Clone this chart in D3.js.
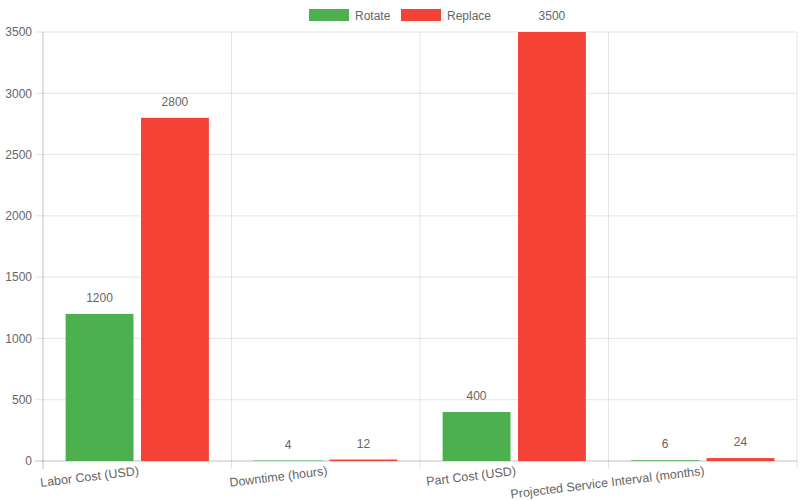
<!DOCTYPE html>
<html><head><meta charset="utf-8">
<script src="https://cdn.jsdelivr.net/npm/d3@7"></script>
<style>body{margin:0;background:#fff}svg{display:block;font-family:"Liberation Sans",Arial,sans-serif}</style>
</head><body><svg id="c" width="800" height="500"></svg>
<script>
const categories = ["Labor Cost (USD)", "Downtime (hours)", "Part Cost (USD)", "Projected Service Interval (months)"];
const seriesNames = ["Rotate", "Replace"];
const rotateValues = [1200, 4, 400, 6];
const replaceValues = [2800, 12, 3500, 24];
const yTicks = [0, 500, 1000, 1500, 2000, 2500, 3000, 3500];
const colors = ["#4CAF50", "#F44336"];

const svg = d3.select("#c");
const m = {l: 43, r: 797, t: 32, b: 461};
const x = d3.scaleBand().domain(categories).range([m.l, m.r]).paddingInner(0).paddingOuter(0);
const x1 = d3.scaleBand().domain(seriesNames).range([0, x.bandwidth()*0.8]).paddingInner(0.1).paddingOuter(0.05);
const y = d3.scaleLinear().domain([0, 3500]).range([m.b, m.t]);

// grid
const g = svg.append("g");
yTicks.forEach(t => {
  g.append("line").attr("x1", m.l - 8).attr("x2", m.r).attr("y1", y(t)).attr("y2", y(t))
    .attr("stroke", t === 0 ? "rgba(0,0,0,0.25)" : "rgba(0,0,0,0.1)").attr("stroke-width", 1);
});
const vlines = categories.map(c => x(c)).concat([m.r]);
vlines.forEach((vx, i) => {
  g.append("line").attr("x1", vx).attr("x2", vx).attr("y1", m.t).attr("y2", m.b + 8)
    .attr("stroke", i === 0 ? "rgba(0,0,0,0.25)" : "rgba(0,0,0,0.1)").attr("stroke-width", 1);
});

// y labels
const yAxis = d3.axisLeft(y).tickValues(yTicks).tickSize(0).tickPadding(11).tickFormat(d3.format("d"));
const ya = svg.append("g").attr("transform", `translate(${m.l},0)`).call(yAxis);
ya.select(".domain").remove();
ya.selectAll("text").attr("fill", "#666").style("font-size", "12px").style("font-family", "Liberation Sans, Arial, sans-serif");

// bars
const data = categories.map((c, i) => ({c, vals: [rotateValues[i], replaceValues[i]]}));
const groups = svg.append("g").selectAll("g").data(data).join("g")
  .attr("transform", d => `translate(${x(d.c) + x.bandwidth()*0.1},0)`);
groups.selectAll("rect").data(d => d.vals.map((v, j) => ({s: seriesNames[j], v, j}))).join("rect")
  .attr("x", d => x1(d.s)).attr("width", x1.bandwidth())
  .attr("y", d => y(d.v)).attr("height", d => y(0) - y(d.v))
  .attr("fill", d => colors[d.j]);
groups.selectAll("text").data(d => d.vals.map((v, j) => ({s: seriesNames[j], v, j}))).join("text")
  .attr("x", d => x1(d.s) + x1.bandwidth()/2).attr("y", d => y(d.v) - 12)
  .attr("text-anchor", "middle").attr("fill", "#666").style("font-size", "12px").text(d => d.v);

// x labels
categories.forEach(c => {
  const cx = x(c) + x.bandwidth()/2;
  svg.append("text").attr("transform", `translate(${cx + 1},${m.b + 5}) rotate(-7)`)
    .attr("text-anchor", "end").attr("dy", "0.71em").attr("fill", "#666")
    .style("font-size", "12.5px").text(c);
});

// legend
const leg = [{n: "Rotate", x: 309}, {n: "Replace", x: 401}];
leg.forEach((l, i) => {
  svg.append("rect").attr("x", l.x).attr("y", 9).attr("width", 40).attr("height", 12).attr("fill", colors[i]);
  svg.append("text").attr("x", l.x + 46).attr("y", 19.5).attr("fill", "#666").style("font-size", "12px").text(l.n);
});
</script></body></html>
